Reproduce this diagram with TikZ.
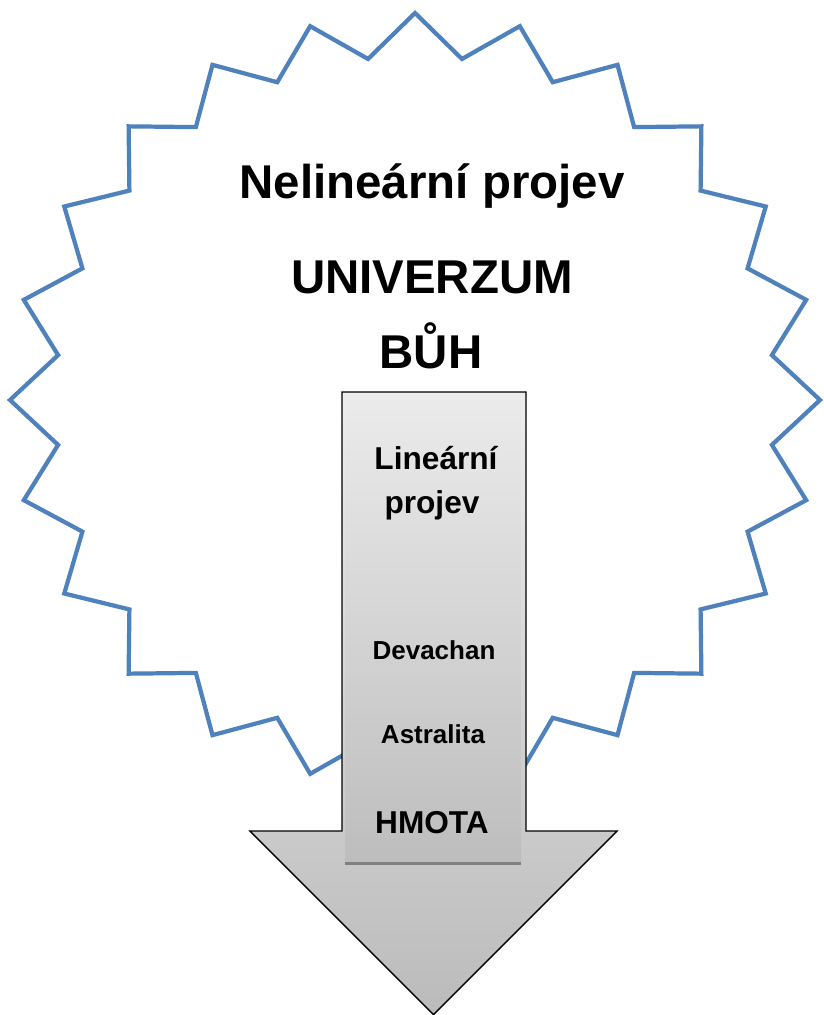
\documentclass[tikz,border=0pt]{standalone}
\usepackage{fontspec}
\setmainfont{Liberation Sans}
\definecolor{starblue}{HTML}{4F81BD}
\definecolor{arrowtop}{HTML}{EDEDED}
\definecolor{arrowbot}{HTML}{BBBBBB}
\definecolor{boxtop}{HTML}{EBEBEB}
\definecolor{boxbot}{HTML}{BDBDBD}
\tikzset{
  bigtext/.style={anchor=base,inner sep=0pt,font=\bfseries\fontsize{27}{32}\selectfont},
  midtext/.style={anchor=base,inner sep=0pt,font=\bfseries\fontsize{18}{22}\selectfont},
  smalltext/.style={anchor=base,inner sep=0pt,font=\bfseries\fontsize{14.8}{18}\selectfont}
}

\begin{document}
\begin{tikzpicture}[x=0.02cm,y=-0.02cm]
            \useasboundingbox (0,0) rectangle (824,1015);
            % star
            \begin{scope}[shift={(415,400)}]
            \draw[starblue,line width=2.4pt,fill=white,line join=miter] (90:405 and 387)
                \foreach \a in {0,15,...,345}{ -- (\a+97.5:360 and 344) -- (\a+105:405 and 387)} -- cycle;
            \end{scope}
            \node (nelin) at (432,198)[bigtext]{Nelineární projev};
            \node (univ) at (432,293)[bigtext]{UNIVERZUM};
            \node (buh) at (431,368)[bigtext]{BŮH};
            % arrow
            \shade[draw=black,line width=0.8pt,top color=arrowtop,bottom color=arrowbot]
                (342,392) -- (526,392) -- (526,831) -- (617,831) -- (433.5,1014.5) -- (250,831) -- (342,831) -- cycle;
            \shade[top color=boxtop,bottom color=boxbot] (345,395) rectangle (521,863);
            \draw[gray,line width=1.7pt] (345,863) -- (521,863);
            \node (lin) at (436,469)[midtext]{Lineární};
            \node (proj) at (432,513)[midtext]{projev};
            \node (deva) at (434,659)[smalltext]{Devachan};
            \node (astr) at (433,743)[smalltext]{Astralita};
            \node (hmota) at (432,833)[midtext]{HMOTA};
\end{tikzpicture}
\end{document}
